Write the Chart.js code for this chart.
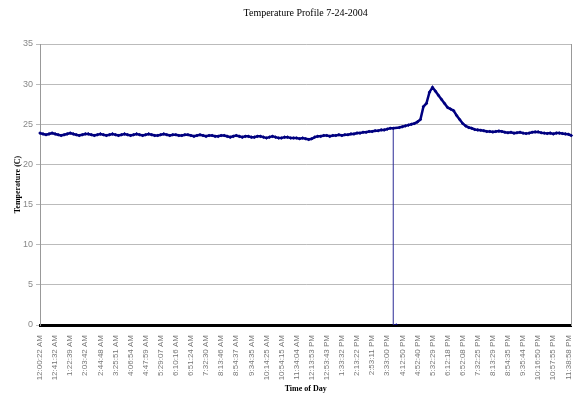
<!DOCTYPE html>
<html>
<head>
<meta charset="utf-8">
<script src="https://cdn.jsdelivr.net/npm/chart.js@4"></script>
<style>
  body { margin: 0; background: #fff; }
  canvas { display: block; }
</style>
</head>
<body>
<canvas id="tempChart" width="580" height="400"></canvas>
<script>
// one tick label every 5 readings
var tickLabels = [
  '12:00:22 AM', '12:41:32 AM', '1:22:39 AM', '2:03:42 AM', '2:44:48 AM', '3:25:51 AM',
  '4:06:54 AM', '4:47:59 AM', '5:29:07 AM', '6:10:16 AM', '6:51:24 AM', '7:32:30 AM',
  '8:13:46 AM', '8:54:37 AM', '9:34:35 AM', '10:14:25 AM', '10:54:15 AM', '11:34:04 AM',
  '12:13:53 PM', '12:53:43 PM', '1:33:32 PM', '2:13:22 PM', '2:53:11 PM', '3:33:00 PM',
  '4:12:50 PM', '4:52:40 PM', '5:32:29 PM', '6:12:18 PM', '6:52:08 PM', '7:32:25 PM',
  '8:13:29 PM', '8:54:35 PM', '9:35:44 PM', '10:16:50 PM', '10:57:55 PM', '11:38:58 PM'
];

// temperature readings (C)
var temps = [
  23.9, 23.8, 23.7, 23.8, 23.9,
  23.8, 23.7, 23.6, 23.7, 23.8,
  23.9, 23.8, 23.7, 23.6, 23.7,
  23.8, 23.8, 23.7, 23.6, 23.7,
  23.8, 23.7, 23.6, 23.7, 23.8,
  23.7, 23.6, 23.7, 23.8, 23.7,
  23.6, 23.7, 23.8, 23.7, 23.6,
  23.7, 23.8, 23.7, 23.6, 23.6,
  23.7, 23.8, 23.7, 23.6, 23.7,
  23.7, 23.6, 23.6, 23.7, 23.7,
  23.6, 23.5, 23.6, 23.7, 23.6,
  23.5, 23.6, 23.6, 23.5, 23.5,
  23.6, 23.6, 23.5, 23.4, 23.5,
  23.6, 23.5, 23.4, 23.5, 23.5,
  23.4, 23.4, 23.5, 23.5, 23.4,
  23.3, 23.4, 23.5, 23.4, 23.3,
  23.3, 23.4, 23.4, 23.3, 23.3,
  23.3, 23.2, 23.3, 23.2, 23.1,
  23.2, 23.4, 23.5, 23.5, 23.6,
  23.6, 23.5, 23.6, 23.6, 23.7,
  23.6, 23.7, 23.7, 23.8, 23.8,
  23.9, 23.9, 24.0, 24.0, 24.1,
  24.1, 24.2, 24.2, 24.3, 24.3,
  24.4, 24.5, 24.5, 0, 24.6,
  24.7, 24.8, 24.9, 25.0, 25.1,
  25.3, 25.6, 27.2, 27.6, 29.0,
  29.6, 29.1, 28.6, 28.1, 27.6,
  27.1, 26.9, 26.7, 26.1, 25.6,
  25.1, 24.8, 24.6, 24.5, 24.35,
  24.3, 24.25, 24.2, 24.1, 24.1,
  24.05, 24.1, 24.15, 24.1, 24.0,
  23.95, 24.0, 23.9, 23.95, 24.0,
  23.9, 23.85, 23.9, 24.0, 24.05,
  24.05, 23.95, 23.9, 23.85, 23.9,
  23.8, 23.9, 23.9, 23.85, 23.8,
  23.75, 23.6
];

var yTicks = [0, 5, 10, 15, 20, 25, 30, 35];

var navy = '#000080';
var labels = temps.map(function (t, i) { return i % 5 === 0 ? tickLabels[i / 5] : ''; });

// the 0 reading is a sensor dropout: main line spans over it,
// a second dataset draws the thin vertical drop
var mainLine = temps.map(function (t) { return t === 0 ? null : t; });
var dropLine = temps.map(function (t, i) {
  if (temps[i + 1] === 0) return t;
  if (t === 0) return 0;
  return null;
});

new Chart(document.getElementById('tempChart'), {
  type: 'line',
  data: {
    labels: labels,
    datasets: [{
      data: mainLine,
      borderColor: navy,
      borderWidth: 2.5,
      pointStyle: 'rectRot',
      pointRadius: 1.8,
      pointBorderWidth: 0,
      pointBackgroundColor: navy,
      spanGaps: true,
      fill: false
    }, {
      data: dropLine,
      borderColor: '#2a2a96',
      borderWidth: 1,
      pointStyle: 'rectRot',
      pointRadius: function (ctx) { return ctx.raw === 0 ? 1.8 : 0; },
      pointBorderWidth: 0,
      pointBackgroundColor: navy,
      stepped: 'after',
      spanGaps: false,
      fill: false
    }]
  },
  options: {
    responsive: false,
    devicePixelRatio: 1,
    animation: false,
    layout: { padding: { top: 4, right: 7, bottom: 2, left: 0 } },
    plugins: {
      legend: { display: false },
      tooltip: { enabled: false },
      title: {
        display: true,
        text: 'Temperature Profile 7-24-2004',
        color: '#000',
        fullSize: false,
        font: { family: 'Liberation Serif', size: 10, weight: 'normal' },
        padding: { top: 3, bottom: 25 }
      }
    },
    scales: {
      x: {
        grid: { drawOnChartArea: false, drawTicks: true, tickLength: 8, color: 'rgba(0,0,0,0)' },
        border: { display: true, color: '#000', width: 3 },
        ticks: {
          autoSkip: false,
          minRotation: 90,
          maxRotation: 90,
          padding: 2,
          color: '#777',
          font: { family: 'Liberation Sans', size: 8 },
          callback: function (val, idx) {
            return labels[idx] ? labels[idx] : null;
          }
        },
        title: {
          display: true,
          text: 'Time of Day',
          color: '#000',
          font: { family: 'Liberation Serif', size: 8, weight: 'bold' },
          padding: { top: 4, bottom: 4 }
        },
        afterFit: function (scale) { scale.height = 73; }
      },
      y: {
        min: 0,
        max: 35,
        afterBuildTicks: function (scale) {
          scale.ticks = yTicks.map(function (v) { return { value: v }; });
        },
        grid: { color: '#bbb', tickLength: 4, lineWidth: 1 },
        border: { color: '#999' },
        ticks: {
          padding: 3,
          color: '#888',
          font: { family: 'Liberation Sans', size: 9 }
        },
        title: {
          display: true,
          text: 'Temperature (C)',
          color: '#000',
          font: { family: 'Liberation Serif', size: 8, weight: 'bold' },
          padding: { top: 13, bottom: 13 }
        },
        afterFit: function (scale) { scale.width = 40; }
      },
      yr: {
        position: 'right',
        min: 0,
        max: 35,
        grid: { drawOnChartArea: false, drawTicks: false },
        border: { color: '#999' },
        ticks: { display: false },
        afterFit: function (scale) { scale.width = 0; }
      }
    }
  }
});
</script>
</body>
</html>
